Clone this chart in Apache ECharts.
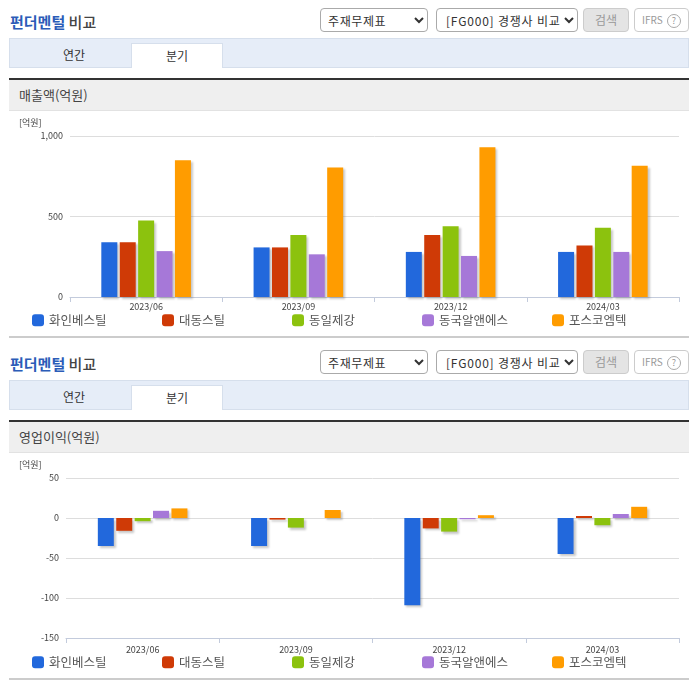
<!DOCTYPE html>
<html>
<head>
<meta charset="utf-8">
<script src="https://cdn.jsdelivr.net/npm/echarts@6/dist/echarts.min.js"></script>
<style>
  html, body { margin: 0; padding: 0; background: #fff; overflow: hidden; }
  body { width: 696px; height: 684px; position: relative; font-family: "Noto Sans CJK KR", sans-serif; color: #444; }
  .block { position: absolute; left: 0; width: 696px; height: 342px; }
  .title { position: absolute; left: 10px; top: 12px; font-size: 15px; line-height: 20px; font-weight: 500; color: #444; }
  .title b { color: #2b5cb8; font-weight: 700; }
  select { position: absolute; top: 8px; height: 24px; box-sizing: border-box; background: #fff; border: 1px solid #aaa; border-radius: 4px; font: 12px "Noto Sans CJK KR", sans-serif; color: #333; padding: 0 0 0 3px; }
  .s1 { left: 320px; width: 108px; letter-spacing: 0.6px; }
  .s2 { left: 436px; width: 142px; letter-spacing: 0.8px; padding-left: 5px; }
  .btn { position: absolute; top: 8px; height: 24px; box-sizing: border-box; border-radius: 4px; font-size: 12px; line-height: 22px; text-align: center; color: #999; }
  .search { left: 583px; width: 46px; background: #e4e4e4; border: 1px solid #ccc; }
  .ifrs { left: 634px; width: 55px; background: #fff; border: 1px solid #ccc; font-size: 10px; }
  .ifrs span { display: inline-block; width: 12px; height: 12px; line-height: 12px; border: 1px solid #aaa; border-radius: 50%; font-size: 9px; margin-left: 2px; vertical-align: middle; }
  .tabs { position: absolute; left: 9px; top: 38px; width: 680px; height: 30px; box-sizing: border-box; background: #e6edf8; border: 1px solid #d6dfec; }
  .tab { position: absolute; top: 43px; height: 25px; font-size: 12px; line-height: 24px; text-align: center; color: #333; box-sizing: border-box; }
  .t1 { left: 9px; width: 130px; }
  .t2 { left: 131px; width: 92px; background: #fff; border: 1px solid #d6dfec; border-bottom: 0; }
  .band { position: absolute; left: 9px; top: 78px; width: 680px; height: 33px; box-sizing: border-box; background: #efefef; border-top: 2px solid #333; border-bottom: 1px solid #e2e2e2; font-size: 13px; line-height: 30px; padding-left: 10px; color: #444; }
  .chart { position: absolute; left: 0; top: 112px; width: 696px; height: 224px; }
  .rule { position: absolute; left: 9px; top: 336px; width: 680px; height: 2px; background: #ccc; }
</style>
</head>
<body>
<script>
const categories = ['2023/06', '2023/09', '2023/12', '2024/03']
const companies = ['화인베스틸', '대동스틸', '동일제강', '동국알앤에스', '포스코엠텍']
const colors = ['#2268dc', '#cf3a06', '#8cc20e', '#a678d8', '#ff9c00']

// 매출액, 회사별 분기 값
const sales = [
  [340, 308, 280, 280],
  [340, 308, 385, 320],
  [475, 385, 440, 430],
  [285, 265, 255, 280],
  [850, 805, 930, 815],
]
// 영업이익, 회사별 분기 값
const profit = [
  [-35, -35, -109, -45],
  [-16, -2, -13, 2.5],
  [-4, -12, -17, -9],
  [9, 0, -1.5, 5],
  [12, 10, 3.5, 14],
]
const salesTicks = { min: 0, max: 1000, interval: 500 }
const profitTicks = { min: -150, max: 50, interval: 50 }

function addBlock(top, bandTitle) {
  const el = document.createElement('div')
  el.className = 'block'
  el.style.top = top + 'px'
  el.innerHTML = `
    <div class="title"><b>펀더멘털</b> 비교</div>
    <select class="s1"><option>주재무제표</option></select>
    <select class="s2"><option>[FG000] 경쟁사 비교</option></select>
    <div class="btn search">검색</div>
    <div class="btn ifrs">IFRS <span>?</span></div>
    <div class="tabs"></div>
    <div class="tab t1">연간</div>
    <div class="tab t2">분기</div>
    <div class="band">${bandTitle}</div>
    <div class="chart"></div>
    <div class="rule"></div>`
  document.body.appendChild(el)
  return el.querySelector('.chart')
}

function drawChart(dom, values, ticks, gridLeft, gridTop, gridHeight, labelMargin) {
  const chart = echarts.init(dom, null, { renderer: 'canvas' })
  chart.setOption({
    animation: false,
    textStyle: { fontFamily: '"Noto Sans CJK KR", sans-serif' },
    graphic: [{
      type: 'text', left: 19, top: gridTop - 18,
      style: { text: '[억원]', fontSize: 9, fill: '#444', fontFamily: '"Noto Sans CJK KR", sans-serif' },
    }],
    grid: { left: gridLeft, right: 17, top: gridTop, height: gridHeight },
    legend: companies.map((name, i) => ({
      data: [name],
      left: 32 + i * 130,
      top: 202,
      padding: 0,
      icon: 'roundRect',
      itemWidth: 12,
      itemHeight: 12,
      itemGap: 5,
      textStyle: { fontSize: 12.5, color: '#555' },
    })),
    xAxis: {
      type: 'category',
      data: categories,
      axisLine: { onZero: false, lineStyle: { color: '#c3cbdc' } },
      axisTick: { show: true, length: 5, lineStyle: { color: '#c3cbdc' } },
      axisLabel: { fontSize: 9, color: '#444', margin: labelMargin },
    },
    yAxis: {
      type: 'value',
      min: ticks.min,
      max: ticks.max,
      interval: ticks.interval,
      axisLine: { show: false },
      axisTick: { show: false },
      axisLabel: { fontSize: 9, color: '#444', margin: 7, formatter: (v) => v.toLocaleString('en-US') },
      splitLine: { lineStyle: { color: '#dddddd' } },
    },
    series: companies.map((name, i) => ({
      name,
      type: 'bar',
      barWidth: 16,
      barGap: '15%',
      data: values[i],
      itemStyle: {
        color: colors[i],
        shadowColor: 'rgba(120,120,120,0.4)',
        shadowBlur: 2,
        shadowOffsetX: 2,
        shadowOffsetY: 2,
      },
    })),
  })
}

drawChart(addBlock(0, '매출액(억원)'), sales, salesTicks, 70, 24, 161, 5)
drawChart(addBlock(342, '영업이익(억원)'), profit, profitTicks, 66, 24, 160, 7)
</script>
</body>
</html>
